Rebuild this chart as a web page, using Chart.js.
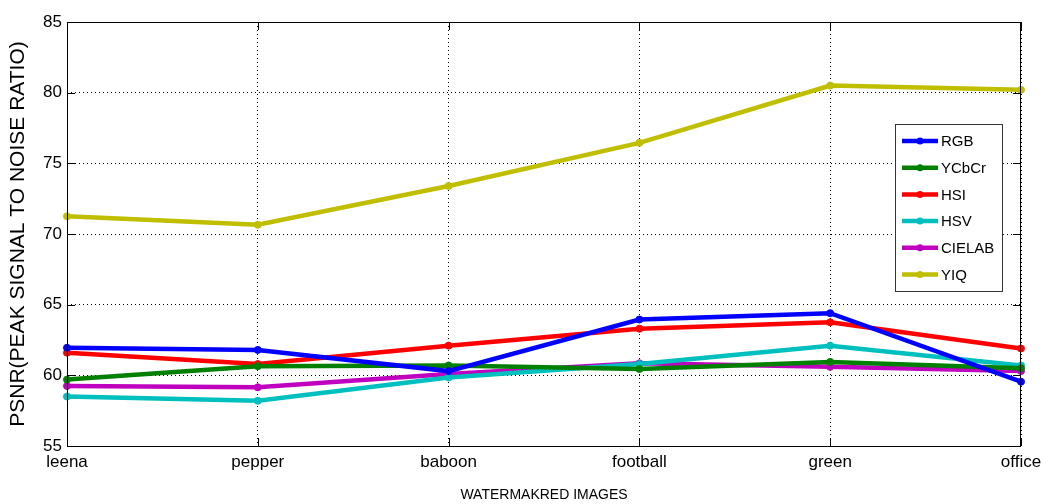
<!DOCTYPE html>
<html>
<head>
<meta charset="utf-8">
<script src="https://cdn.jsdelivr.net/npm/chart.js@4"></script>
<style>
  html, body { margin: 0; padding: 0; background: #fff; }
  #wrap { width: 1041px; height: 504px; }
</style>
</head>
<body>
<div id="wrap"><canvas id="psnrChart" width="1041" height="504"></canvas></div>
<script>
const images = ['leena', 'pepper', 'baboon', 'football', 'green', 'office'];

const rgb    = [61.95, 61.8, 60.3, 63.95, 64.4, 59.55];
const ycbcr  = [59.7, 60.65, 60.7, 60.45, 60.95, 60.5];
const hsi    = [61.6, 60.8, 62.1, 63.3, 63.75, 61.9];
const hsv    = [58.5, 58.2, 59.85, 60.8, 62.1, 60.7];
const cielab = [59.25, 59.15, 60.1, 60.85, 60.6, 60.3];
const yiq    = [71.25, 70.65, 73.4, 76.45, 80.5, 80.2];

const yTicks = [55, 60, 65, 70, 75, 80, 85];

const FONT = "'Liberation Sans', Arial, sans-serif";

function series(label, data, color) {
  return {
    label: label,
    data: data,
    borderColor: color,
    backgroundColor: color,
    borderWidth: 4.5,
    pointStyle: 'circle',
    pointRadius: 3.5,
    pointBorderWidth: 1,
    tension: 0,
    fill: false
  };
}

// рамка вокруг области графика + внутренние засечки как в matlab
const framePlugin = {
  id: 'frame',
  afterDatasetsDraw(chart) {
    const { ctx, chartArea: a, scales } = chart;
    ctx.save();
    ctx.strokeStyle = '#000';
    ctx.lineWidth = 1;
    ctx.setLineDash([]);
    ctx.strokeRect(a.left + 0.5, a.top + 0.5, a.right - a.left - 1, a.bottom - a.top);
    ctx.beginPath();
    yTicks.forEach(v => {
      const y = Math.round(scales.y.getPixelForValue(v)) + 0.5;
      ctx.moveTo(a.left, y); ctx.lineTo(a.left + 8, y);
      ctx.moveTo(a.right, y); ctx.lineTo(a.right - 8, y);
    });
    images.forEach((c, i) => {
      const x = Math.round(scales.x.getPixelForValue(i)) + 0.5;
      ctx.moveTo(x, a.bottom); ctx.lineTo(x, a.bottom - 8);
      ctx.moveTo(x, a.top); ctx.lineTo(x, a.top + 8);
    });
    ctx.stroke();

    // легенда внутри области графика
    const bx = a.right - 126, by = a.top + 102, bw = 107, bh = 167;
    ctx.fillStyle = '#fff';
    ctx.fillRect(bx, by, bw, bh);
    ctx.strokeStyle = '#333';
    ctx.strokeRect(bx + 0.5, by + 0.5, bw, bh);
    ctx.font = '15px ' + FONT;
    ctx.textBaseline = 'middle';
    chart.data.datasets.forEach((ds, i) => {
      const y = by + 17 + i * 26.7;
      ctx.strokeStyle = ds.borderColor;
      ctx.lineWidth = 4.5;
      ctx.beginPath();
      ctx.moveTo(bx + 7, y); ctx.lineTo(bx + 43, y);
      ctx.stroke();
      ctx.fillStyle = ds.borderColor;
      ctx.beginPath();
      ctx.arc(bx + 25, y, 3.5, 0, Math.PI * 2);
      ctx.fill();
      ctx.fillStyle = '#000';
      ctx.fillText(ds.label, bx + 46, y + 1);
    });
    ctx.restore();
  }
};

const ctx = document.getElementById('psnrChart').getContext('2d');
const chart = new Chart(ctx, {
  type: 'line',
  data: {
    labels: images,
    datasets: [
      series('RGB', rgb, '#0000ff'),
      series('YCbCr', ycbcr, '#008000'),
      series('HSI', hsi, '#ff0000'),
      series('HSV', hsv, '#00bfbf'),
      series('CIELAB', cielab, '#bf00bf'),
      series('YIQ', yiq, '#bfbf00')
    ]
  },
  options: {
    responsive: false,
    animation: false,
    layout: { padding: { top: 22, right: 20, left: 0, bottom: 0 } },
    plugins: {
      legend: { display: false },
      tooltip: { enabled: false }
    },
    scales: {
      x: {
        offset: false,
        afterFit(scale) {
          scale.height = 58;
          scale.paddingLeft = 0;
          scale.paddingRight = 0;
        },
        grid: { color: '#000', lineWidth: 1, drawTicks: false },
        border: { display: false, dash: [1, 3] },
        ticks: { color: '#000', font: { family: FONT, size: 17 }, padding: 6, maxRotation: 0, autoSkip: false },
        title: {
          display: true,
          text: 'WATERMAKRED IMAGES',
          color: '#000',
          font: { family: FONT, size: 14 },
          padding: { top: 4, bottom: 0 }
        }
      },
      y: {
        min: 55,
        max: 85,
        afterFit(scale) { scale.width = 67; },
        afterBuildTicks(scale) { scale.ticks = yTicks.map(v => ({ value: v })); },
        grid: { color: '#000', lineWidth: 1, drawTicks: false },
        border: { display: false, dash: [1, 3] },
        ticks: { color: '#000', font: { family: FONT, size: 17 }, padding: 5 },
        title: {
          display: true,
          text: 'PSNR(PEAK SIGNAL TO NOISE RATIO)',
          color: '#000',
          font: { family: FONT, size: 21 },
          padding: { top: 6, bottom: 0 }
        }
      }
    }
  },
  plugins: [framePlugin]
});
</script>
</body>
</html>
